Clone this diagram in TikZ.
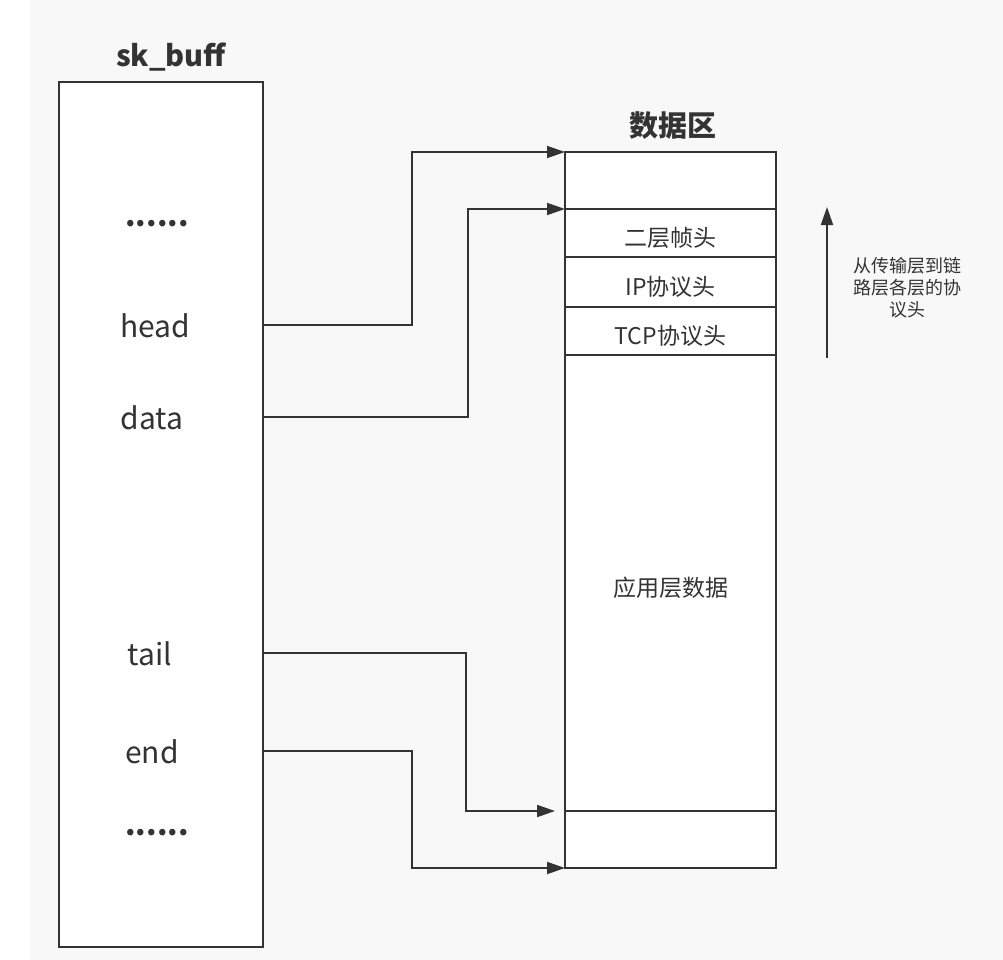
\documentclass[tikz,border=0pt]{standalone}
\usepackage{fontspec}
\setmainfont{Noto Sans CJK SC}
\usetikzlibrary{arrows.meta, positioning}
\definecolor{ink}{HTML}{333333}
\definecolor{paper}{HTML}{F8F8F8}

\begin{document}
\begin{tikzpicture}[x=1pt, y=-1pt, >={Triangle[length=18pt, width=12pt]},
  line width=1.8pt, color=ink,
  field/.style={anchor=base, font=\fontsize{30}{36}\selectfont},
  title/.style={anchor=base, font=\bfseries\fontsize{29}{34}\selectfont},
  cell/.style={draw, fill=white, minimum width=211pt, inner sep=0pt, outer sep=0pt,
    text height=26pt, text depth=0pt, font=\fontsize{23}{27}\selectfont},
  note/.style={align=center, font=\fontsize{18}{22}\selectfont}]
\fill[paper] (30,0) rectangle (1003,960);
\useasboundingbox (0,0) rectangle (1003,960);
% sk_buff structure
\node[title] (sktitle) at (171,67) {sk\_buff};
\node[draw, fill=white, minimum width=204pt, minimum height=865pt, outer sep=0pt,
  anchor=north west] (skbuff) at (59,82) {};
\node[field, font=\bfseries\fontsize{30}{36}\selectfont] (dotsa) at (157,226) {......};
\node[field] (head) at (155,337) {head};
\node[field] (data) at (152,429) {data};
\node[field] (tail) at (150,665) {tail};
\node[field] (end) at (152,763) {end};
\node[field, font=\bfseries\fontsize{30}{36}\selectfont] (dotsb) at (157,835) {......};
% data area
\node[title] (datatitle) at (673,137) {数据区};
\node[cell, minimum height=57pt, anchor=north west] (r0) at (565,152) {};
\node[cell, minimum height=48pt, below=0pt of r0] (r1) {二层帧头};
\node[cell, minimum height=50pt, below=0pt of r1] (r2) {IP协议头};
\node[cell, minimum height=48pt, below=0pt of r2] (r3) {TCP协议头};
\node[cell, minimum height=456pt, below=0pt of r3] (r4) {应用层数据};
\node[cell, minimum height=57pt, below=0pt of r4] (r5) {};
% pointers
\draw[->] (head -| skbuff.east) -| ([xshift=-153pt]r0.north west) -- (r0.north west);
\draw[->] (data -| skbuff.east) -| ([xshift=-97pt]r1.north west) -- (r1.north west);
\draw[->, shorten >=10pt] (tail -| skbuff.east) -| ([xshift=-99pt]r5.north west) -- (r5.north west);
\draw[->] (end -| skbuff.east) -| ([xshift=-153pt]r5.south west) -- (r5.south west);
% layer direction
\coordinate (upfrom) at (827,358);
\coordinate (upto) at (827,207);
\draw[->] (upfrom) -- (upto);
\node[note] (layers) at (907,288) {从传输层到链\\路层各层的协\\议头};
\end{tikzpicture}
\end{document}
